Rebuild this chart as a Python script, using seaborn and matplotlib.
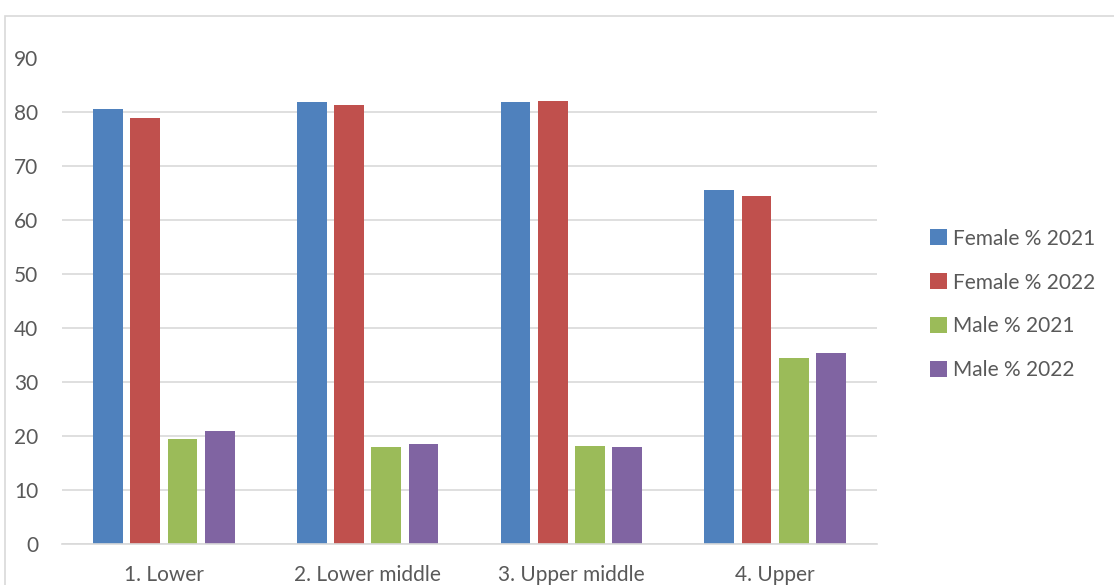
import pandas as pd
import matplotlib.pyplot as plt
import seaborn as sns
from matplotlib.patches import Rectangle

# values
categories = ["1. Lower", "2. Lower middle", "3. Upper middle", "4. Upper"]
female_2021 = [80.6, 81.9, 81.9, 65.6]
female_2022 = [79.0, 81.4, 82.2, 64.6]
male_2021 = [19.4, 18.0, 18.2, 34.4]
male_2022 = [21.0, 18.5, 17.9, 35.4]
series_names = ["Female % 2021", "Female % 2022", "Male % 2021", "Male % 2022"]
colors = ["#4F81BD", "#C0504D", "#9BBB59", "#8064A2"]

rows = []
for name, vals in zip(series_names, [female_2021, female_2022, male_2021, male_2022]):
    for cat, v in zip(categories, vals):
        rows.append({"category": cat, "series": name, "value": v})
df = pd.DataFrame(rows)

sns.set_style("white")
plt.rcParams["font.family"] = ["Lato", "DejaVu Sans"]
text_color = "#595959"

fig = plt.figure(figsize=(11.14, 5.85), dpi=100)
ax = fig.add_axes([0.0557, 0.070, 0.7315, 0.830])

sns.barplot(data=df, x="category", y="value", hue="series", palette=colors,
            width=0.73, gap=0.2, ax=ax, saturation=1, edgecolor="none")

ax.set_ylim(0, 90)
ax.set_yticks(range(0, 91, 10))
ax.set_xlim(-0.5, 3.5)
ax.set_xlabel("")
ax.set_ylabel("")
ax.grid(axis="y", color="#D9D9D9", linewidth=1.2)
ax.set_axisbelow(True)
for side in ["top", "right", "left"]:
    ax.spines[side].set_visible(False)
ax.spines["bottom"].set_color("#D9D9D9")
ax.spines["bottom"].set_linewidth(1.2)
ax.tick_params(axis="both", length=0, labelsize=15, colors=text_color)
ax.tick_params(axis="y", pad=17)
ax.tick_params(axis="x", pad=15)

ax.legend(loc="center left", bbox_to_anchor=(0.8255, 0.4795),
          bbox_transform=fig.transFigure, frameon=False, borderpad=0,
          fontsize=15, handlelength=0.8, handleheight=0.8, handletextpad=0.3,
          labelspacing=1.15, labelcolor=text_color)

# outer chart border
fig.patches.append(Rectangle((5 / 1114, -0.1), 1.2, (585 - 16) / 585 + 0.1,
                             transform=fig.transFigure, fill=False,
                             edgecolor="#D9D9D9", linewidth=1.2))

fig.savefig("out.png", dpi=100)
